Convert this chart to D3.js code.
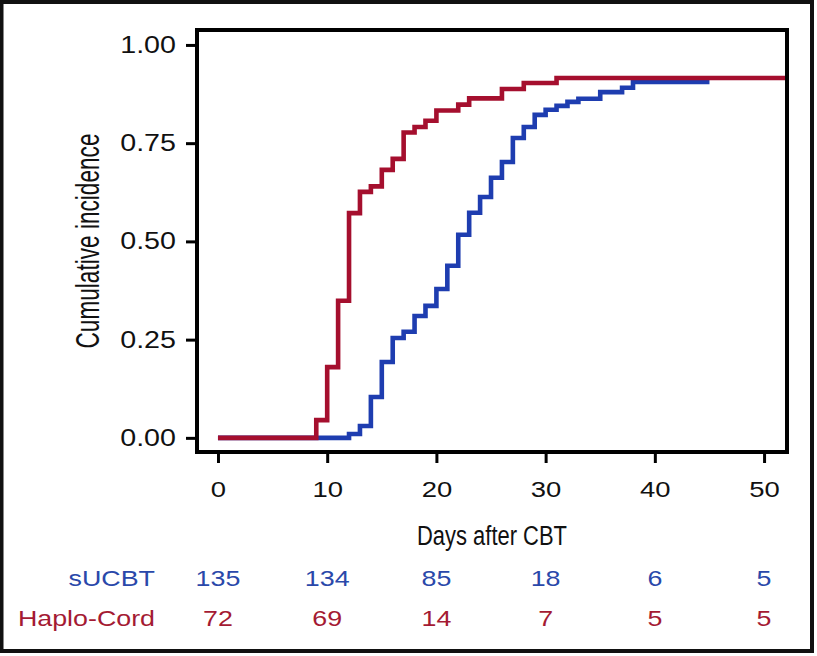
<!DOCTYPE html>
<html>
<head>
<meta charset="utf-8">
<script src="https://cdn.jsdelivr.net/npm/d3@7"></script>
<style>
  html, body { margin: 0; padding: 0; background: #fff; }
  svg { display: block; }
  text { font-family: "Liberation Sans", Arial, Helvetica, sans-serif; }
</style>
</head>
<body>
<svg id="chart" width="817" height="656"></svg>
<script>
// ---------- data ----------
const seriesNames = ["sUCBT", "Haplo-Cord"];
const seriesColors = ["#1e3db0", "#a50f2e"];

// sUCBT cumulative incidence (step function, day -> value)
const sucbtDays   = [0, 12, 13, 14, 15, 16, 17, 18, 19, 20, 21, 22, 23, 24, 25, 26, 27, 28, 29, 30, 31, 32, 33, 35, 37, 38, 45];
const sucbtValues = [0, 0.01, 0.03, 0.104, 0.193, 0.254, 0.27, 0.31, 0.336, 0.379, 0.438, 0.517, 0.573, 0.613, 0.662, 0.702, 0.763, 0.791, 0.822, 0.835, 0.845, 0.855, 0.863, 0.880, 0.891, 0.906, 0.906];

// Haplo-Cord cumulative incidence
const haploDays   = [0, 9, 10, 11, 12, 13, 14, 15, 16, 17, 18, 19, 20, 22, 23, 26, 28, 31, 52.1];
const haploValues = [0, 0.045, 0.18, 0.349, 0.572, 0.626, 0.64, 0.682, 0.71, 0.777, 0.791, 0.807, 0.833, 0.848, 0.864, 0.888, 0.903, 0.916, 0.916];

const xTicks = [0, 10, 20, 30, 40, 50];
const yTicks = [0, 0.25, 0.5, 0.75, 1.0];

// numbers at risk at each x tick
const riskSucbt = [135, 134, 85, 18, 6, 5];
const riskHaplo = [72, 69, 14, 7, 5, 5];

const xTitle = "Days after CBT";
const yTitle = "Cumulative incidence";

// ---------- layout ----------
const plot = { left: 197, right: 787, top: 30, bottom: 452 };
const stretch = 1.22;   // horizontal stretch of text seen in the reference

const svg = d3.select("#chart");

const x = d3.scaleLinear().domain([-1.92, 52.1]).range([plot.left, plot.right]);
const y = d3.scaleLinear().domain([-0.036, 1.038]).range([plot.bottom, plot.top]);

// outer border of the figure
svg.append("rect")
  .attr("x", 1.5).attr("y", 2).attr("width", 810.5).attr("height", 649)
  .attr("fill", "none").attr("stroke", "#111").attr("stroke-width", 4);

// ---------- curves ----------
const line = d3.line()
  .x(d => x(d[0]))
  .y(d => y(d[1]))
  .curve(d3.curveStepAfter);

const series = [
  { days: sucbtDays, values: sucbtValues, color: seriesColors[0] },
  { days: haploDays, values: haploValues, color: seriesColors[1] }
];

series.forEach(s => {
  svg.append("path")
    .datum(s.days.map((d, i) => [d, s.values[i]]))
    .attr("d", line)
    .attr("fill", "none")
    .attr("stroke", s.color)
    .attr("stroke-width", 4.6)
    .attr("stroke-linejoin", "miter")
    .attr("stroke-linecap", "butt");
});

// ---------- axes ----------
const yAxis = svg.append("g")
  .attr("transform", `translate(${plot.left},0)`)
  .call(d3.axisLeft(y).tickValues(yTicks).tickFormat(d3.format(".2f")).tickSize(11).tickPadding(10));
yAxis.select(".domain").remove();
yAxis.selectAll(".tick line").attr("stroke", "#000").attr("stroke-width", 3);
yAxis.selectAll(".tick text").attr("font-size", 23.5).attr("fill", "#111")
  .attr("font-family", "'Liberation Sans', Arial, sans-serif");

const xAxis = svg.append("g")
  .attr("transform", `translate(0,${plot.bottom})`)
  .call(d3.axisBottom(x).tickValues(xTicks).tickFormat(d3.format("d")).tickSize(11).tickPadding(18));
xAxis.select(".domain").remove();
xAxis.selectAll(".tick line").attr("stroke", "#000").attr("stroke-width", 3);
xAxis.selectAll(".tick text").attr("font-size", 22.5).attr("fill", "#111")
  .attr("font-family", "'Liberation Sans', Arial, sans-serif");

// stretch tick text horizontally
function stretchText(sel) {
  sel.each(function () {
    const t = d3.select(this);
    const tx = +t.attr("x") || 0;
    const ty = +t.attr("y") || 0;
    t.attr("x", 0).attr("y", 0)
     .attr("transform", `translate(${tx},${ty}) scale(${stretch},1)`);
  });
}
stretchText(yAxis.selectAll(".tick text"));
stretchText(xAxis.selectAll(".tick text"));

// plot frame
svg.append("rect")
  .attr("x", plot.left).attr("y", plot.top)
  .attr("width", plot.right - plot.left).attr("height", plot.bottom - plot.top)
  .attr("fill", "none").attr("stroke", "#000").attr("stroke-width", 4);

// ---------- titles ----------
svg.append("text")
  .attr("x", (plot.left + plot.right) / 2).attr("y", 545)
  .attr("text-anchor", "middle")
  .attr("font-family", "'Liberation Sans Narrow', 'Liberation Sans', Arial, sans-serif")
  .attr("font-size", 27).attr("fill", "#111")
  .attr("textLength", 150).attr("lengthAdjust", "spacingAndGlyphs")
  .text(xTitle);

svg.append("g")
  .attr("transform", `translate(99,${(plot.top + plot.bottom) / 2}) scale(${stretch},1) rotate(-90)`)
  .append("text")
  .attr("x", 0).attr("y", 0)
  .attr("text-anchor", "middle")
  .attr("font-family", "'Liberation Sans Narrow', 'Liberation Sans', Arial, sans-serif")
  .attr("font-size", 27).attr("fill", "#111")
  .attr("textLength", 215).attr("lengthAdjust", "spacingAndGlyphs")
  .text(yTitle);

// ---------- numbers at risk ----------
const riskRows = [
  { name: seriesNames[0], values: riskSucbt, color: "#2a48aa", baseline: 586 },
  { name: seriesNames[1], values: riskHaplo, color: "#a41a33", baseline: 626 }
];

riskRows.forEach(r => {
  svg.append("text")
    .attr("transform", `translate(155,${r.baseline}) scale(${stretch},1)`)
    .attr("text-anchor", "end")
    .attr("font-size", 22).attr("fill", r.color)
    .text(r.name);
  svg.append("g").selectAll("text")
    .data(r.values)
    .join("text")
    .attr("transform", (d, i) => `translate(${x(xTicks[i])},${r.baseline}) scale(${stretch},1)`)
    .attr("text-anchor", "middle")
    .attr("font-size", 22).attr("fill", r.color)
    .text(d => d);
});
</script>
</body>
</html>
